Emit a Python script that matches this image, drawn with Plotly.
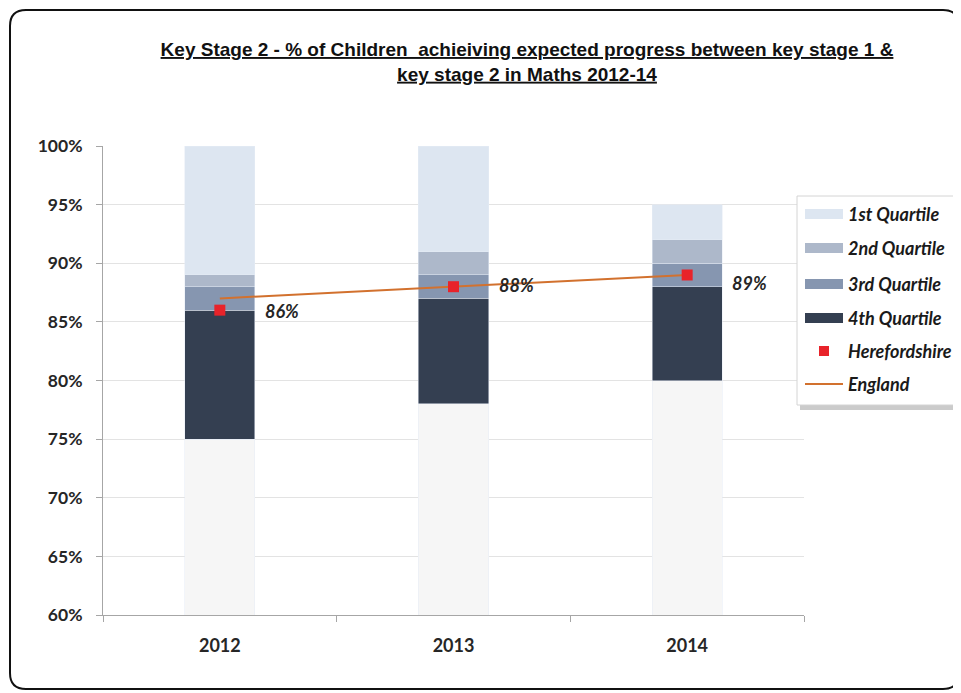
import plotly.graph_objects as go

years = ["2012", "2013", "2014"]
base = [75, 78, 80]           # top of the pale base segment
q4_top = [86, 87, 88]
q3_top = [88, 89, 90]
q2_top = [89, 91, 92]
q1_top = [100, 100, 95]
hereford = [86, 88, 89]
england = [87, 88, 89]
hereford_labels = ["86%", "88%", "89%"]

legend_names = ["1st Quartile", "2nd Quartile", "3rd Quartile", "4th Quartile",
                "Herefordshire", "England"]
colors = {"1st Quartile": "#dde6f1", "2nd Quartile": "#adb8ca",
          "3rd Quartile": "#8696b0", "4th Quartile": "#343f51",
          "Herefordshire": "#e8232a", "England": "#d2712e", "base": "#f6f6f6"}

def seg(top, bottom):
    return [t - b for t, b in zip(top, bottom)]

font_main = "Lato, 'Open Sans', sans-serif"
OFF = 8                       # page body margin
W, H = 961 - OFF, 693 - OFF
PL, PR, PT, PB = 103, 804, 146, 615   # plot area in page pixels
L, R, T, B = PL - OFF, W - (PR - OFF), PT - OFF, H - (PB - OFF)

def px_x(p):
    return (p - PL) / (PR - PL)

def px_y(p):
    return (PB - p) / (PB - PT)

fig = go.Figure()
fig.add_bar(x=years, y=base, marker_color=colors["base"], name="base",
            showlegend=False, hoverinfo="skip")
fig.add_bar(x=years, y=seg(q4_top, base), name="4th Quartile",
            marker_color=colors["4th Quartile"], showlegend=False)
fig.add_bar(x=years, y=seg(q3_top, q4_top), name="3rd Quartile",
            marker_color=colors["3rd Quartile"], showlegend=False)
fig.add_bar(x=years, y=seg(q2_top, q3_top), name="2nd Quartile",
            marker_color=colors["2nd Quartile"], showlegend=False)
fig.add_bar(x=years, y=seg(q1_top, q2_top), name="1st Quartile",
            marker_color=colors["1st Quartile"], showlegend=False)
fig.add_scatter(x=years, y=england, mode="lines", name="England",
                line=dict(color=colors["England"], width=2), showlegend=False)
fig.add_scatter(x=years, y=hereford, mode="markers", name="Herefordshire",
                marker=dict(symbol="square", size=11, color=colors["Herefordshire"]),
                showlegend=False)

label_yshift = [-1, 2, -8]
annotations = []
for i, (y, t) in enumerate(zip(hereford, hereford_labels)):
    annotations.append(dict(x=i, y=y, xref="x", yref="y", text="<b><i>" + t + "</i></b>",
                            showarrow=False, xanchor="left", yanchor="middle",
                            xshift=43, yshift=label_yshift[i],
                            font=dict(family=font_main, size=18, color="#262626")))

# outer rounded frame
x0, x1 = px_x(10), px_x(959)
y0, y1 = px_y(689), px_y(10)
rx, ry = 16 / (PR - PL), 16 / (PB - PT)
path = (f"M {x0+rx},{y1} L {x1-rx},{y1} Q {x1},{y1} {x1},{y1-ry} "
        f"L {x1},{y0+ry} Q {x1},{y0} {x1-rx},{y0} L {x0+rx},{y0} "
        f"Q {x0},{y0} {x0},{y0+ry} L {x0},{y1-ry} Q {x0},{y1} {x0+rx},{y1} Z")
shapes = [dict(type="path", xref="paper", yref="paper", path=path,
               line=dict(color="#111111", width=2), layer="below")]

# custom legend box with shadow
lx0, lx1, ly0, ly1 = 797, 958, 196, 405
shapes.append(dict(type="rect", xref="paper", yref="paper",
                   x0=px_x(lx0 + 3), x1=px_x(lx1 + 3), y0=px_y(ly1 + 5), y1=px_y(ly0 + 5),
                   fillcolor="#a0a0a0", line=dict(width=0), layer="above", opacity=0.55))
shapes.append(dict(type="rect", xref="paper", yref="paper",
                   x0=px_x(lx0), x1=px_x(lx1), y0=px_y(ly1), y1=px_y(ly0),
                   fillcolor="white", line=dict(color="#d4d4d4", width=1), layer="above"))
item_y = [214, 248, 284, 318, 351, 384]
sw0, sw1 = 805, 843
for name, yy in zip(legend_names, item_y):
    c = colors[name]
    if name == "Herefordshire":
        shapes.append(dict(type="rect", xref="paper", yref="paper",
                           x0=px_x(819), x1=px_x(829), y0=px_y(yy + 5), y1=px_y(yy - 5),
                           fillcolor=c, line=dict(width=0), layer="above"))
    elif name == "England":
        shapes.append(dict(type="line", xref="paper", yref="paper",
                           x0=px_x(sw0), x1=px_x(sw1), y0=px_y(yy), y1=px_y(yy),
                           line=dict(color=c, width=2), layer="above"))
    else:
        shapes.append(dict(type="rect", xref="paper", yref="paper",
                           x0=px_x(sw0), x1=px_x(sw1), y0=px_y(yy + 5), y1=px_y(yy - 5),
                           fillcolor=c, line=dict(width=0), layer="above"))
    annotations.append(dict(x=px_x(846), y=px_y(yy), xref="paper", yref="paper",
                            text="<b><i>" + name + "</i></b>", showarrow=False,
                            xanchor="left", yanchor="middle",
                            font=dict(family=font_main, size=18, color="#1a1a1a")))

fig.update_layout(
    width=W, height=H,
    margin=dict(l=L, r=R, t=T, b=B),
    paper_bgcolor="white", plot_bgcolor="white",
    barmode="stack", bargap=0.7,
    title=dict(
        text="<u>Key Stage 2 - % of Children  achieiving expected progress between key stage 1 &</u><br>"
             "<u>key stage 2 in Maths 2012-14</u>",
        x=px_x(527), xref="paper", xanchor="center",
        y=1 - (56 - OFF) / H, yref="container", yanchor="top",
        font=dict(family="'Liberation Sans', Arial, sans-serif",
                  size=19, color="#111111", weight="bold"),
    ),
    annotations=annotations,
    shapes=shapes,
    showlegend=False,
)
fig.update_xaxes(type="category", range=[-0.5, 2.5], showline=True, linecolor="#a6a6a6",
                 linewidth=1, ticks="outside", tickson="boundaries", ticklen=6,
                 tickcolor="#a6a6a6", ticklabelstandoff=14,
                 tickfont=dict(family=font_main, size=18, color="#262626", weight="bold"),
                 showgrid=False)
fig.update_yaxes(range=[60, 100], dtick=5, ticksuffix="%", showline=True,
                 linecolor="#a6a6a6", linewidth=1, ticks="outside", ticklen=6,
                 tickcolor="#a6a6a6", gridcolor="#e3e3e3", gridwidth=1,
                 ticklabelstandoff=10,
                 tickfont=dict(family=font_main, size=17.5, color="#262626", weight="bold"),
                 zeroline=False)

fig.write_html("out.html")
